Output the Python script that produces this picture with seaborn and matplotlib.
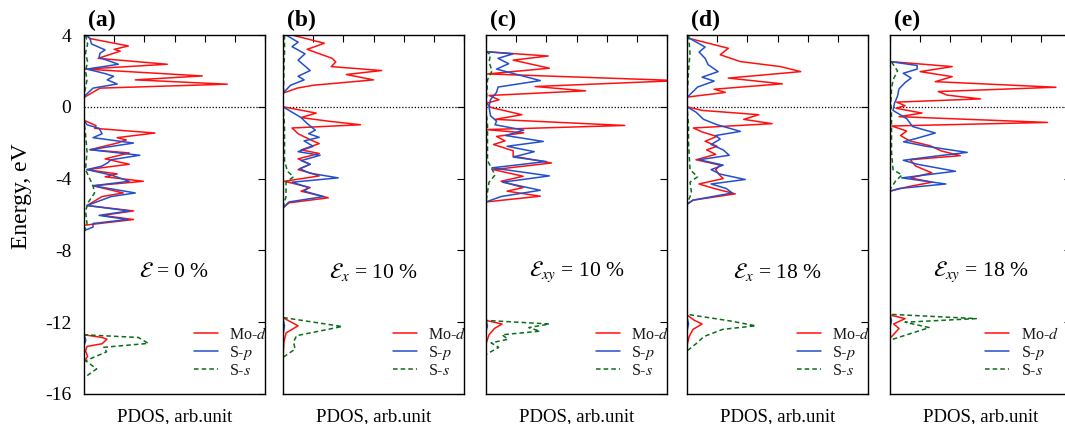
import matplotlib
matplotlib.use("Agg")
import matplotlib.pyplot as plt
import seaborn as sns
import numpy as np

# ---------------- data (energy in eV, PDOS in arb. units) ----------------
panel_labels = ["(a)", "(b)", "(c)", "(d)", "(e)"]
strain_labels = [r"$\mathcal{E}$ = 0 %", r"$\mathcal{E}_x$ = 10 %", r"$\mathcal{E}_{xy}$ = 10 %",
                 r"$\mathcal{E}_x$ = 18 %", r"$\mathcal{E}_{xy}$ = 18 %"]
series_names = ["Mo-$d$", "S-$p$", "S-$s$"]
yticks = [4, 0, -4, -8, -12, -16]

# (a) 0 %
a_mo_e = [4.0, 3.8, 3.39, 3.2, 3.1, 2.7, 2.37, 2.1, 1.72, 1.5, 1.26, 1.04, 0.57, 0.5,
          -0.75, -1.05, -1.2, -1.46, -1.72, -1.85, -2.02, -2.39, -2.57, -2.9, -3.2, -3.5, -3.74, -3.9,
          -4.15, -4.4, -4.8, -5.0, -5.5, -5.8, -6.05, -6.28, -6.6, -6.9,
          -12.7, -12.85, -12.95, -13.2, -13.35, -13.6, -13.9, -14.2]
a_mo_v = [0.1, 0.2, 1.47, 1.0, 1.2, 0.47, 2.76, 0.03, 3.92, 1.7, 4.75, 0.53, 0.05, 0.0,
          0.0, 0.4, 0.35, 2.35, 1.1, 1.4, 1.1, 0.2, 1.5, 0.7, 1.5, 0.1, 1.1, 0.7,
          1.97, 0.3, 1.3, 0.6, 0.1, 1.64, 0.6, 1.64, 0.0, 0.0,
          0.0, 0.6, 0.76, 0.6, 0.1, 0.05, 0.12, 0.0]
a_sp_e = [4.0, 3.8, 3.5, 3.17, 2.98, 2.75, 2.37, 2.1, 1.85, 1.7, 1.5, 1.27, 1.04, 0.57,
          -0.75, -1.0, -1.2, -1.5, -1.72, -2.02, -2.39, -2.7, -2.95, -3.1, -3.3, -3.5, -3.8,
          -4.15, -4.4, -4.8, -5.0, -5.5, -5.8, -6.05, -6.28, -6.5, -6.7, -6.9,
          -12.7, -13.0, -13.3]
a_sp_v = [0.05, 0.2, 0.25, 0.7, 0.53, 0.5, 1.14, 0.1, 0.7, 0.98, 0.77, 1.1, 0.3, 0.0,
          0.0, 0.1, 0.5, 0.6, 0.3, 1.64, 0.2, 1.85, 0.9, 0.8, 0.6, 0.1, 0.9,
          1.5, 0.3, 1.7, 0.9, 0.1, 1.5, 0.5, 1.45, 0.3, 0.3, 0.0,
          0.0, 0.06, 0.0]
a_ss_e = [4.0, 3.5, 3.0, 2.5, 2.0, 1.5, 0.9, 0.5,
          -0.8, -1.5, -2.5, -3.5, -4.4, -4.8, -5.3, -5.8, -6.5, -7.0,
          -12.7, -12.85, -13.18, -13.4, -13.65, -14.15, -14.6, -15.1]
a_ss_v = [0.05, 0.12, 0.05, 0.12, 0.05, 0.1, 0.03, 0.0,
          0.0, 0.05, 0.1, 0.05, 0.3, 0.35, 0.15, 0.05, 0.1, 0.0,
          0.0, 1.8, 2.13, 0.65, 0.75, 0.05, 0.42, 0.0]

# (b) eps_x 10 %
b_mo_e = [4.0, 3.54, 3.2, 2.7, 2.5, 2.24, 2.02, 1.8, 1.5, 1.2, 1.04, 0.76,
          0.0, -0.35, -0.6, -0.8, -1.0, -1.18, -1.5, -1.83, -2.05, -2.4, -2.6, -2.9, -3.2, -3.5,
          -3.7, -3.85, -4.15, -4.5, -4.7, -5.07, -5.35, -5.63,
          -11.75, -12.2, -12.6, -13.1, -13.9]
b_mo_v = [0.3, 1.37, 0.8, 1.63, 1.75, 1.6, 3.27, 2.1, 3.0, 1.0, 0.47, 0.0,
          0.0, 1.1, 0.6, 1.5, 2.57, 0.3, 0.5, 0.9, 1.2, 0.6, 1.2, 0.5, 0.9, 0.5,
          0.93, 1.2, 0.05, 0.9, 0.6, 1.5, 0.2, 0.0,
          0.0, 0.5, 0.1, 0.03, 0.0]
b_sp_e = [4.0, 3.6, 3.35, 2.95, 2.6, 2.02, 1.7, 1.5, 1.2, 0.76,
          0.0, -0.3, -0.6, -0.93, -1.3, -1.5, -1.7, -1.9, -2.2, -2.5, -2.7, -3.0, -3.2, -3.45,
          -3.7, -3.96, -4.2, -4.5, -4.7, -5.0, -5.3, -5.63,
          -11.8, -12.2, -12.7]
b_sp_v = [0.1, 0.5, 0.3, 0.73, 0.5, 0.9, 0.5, 0.7, 0.25, 0.0,
          0.0, 0.3, 0.6, 0.8, 1.07, 0.85, 1.2, 0.7, 1.0, 0.5, 1.23, 0.6, 0.9, 0.55,
          0.9, 1.83, 0.3, 0.85, 0.7, 1.35, 0.2, 0.0,
          0.0, 0.05, 0.0]
b_ss_e = [4.0, 3.0, 2.0, 1.0, 0.5,
          0.0, -1.0, -2.0, -3.0, -3.6, -3.9, -4.2, -5.0, -5.6,
          -11.74, -12.24, -12.75, -13.1, -13.5, -13.96]
b_ss_v = [0.05, 0.05, 0.03, 0.02, 0.0,
          0.0, 0.05, 0.05, 0.05, 0.15, 0.35, 0.1, 0.1, 0.0,
          0.0, 1.96, 0.45, 0.35, 0.4, 0.0]

# (c) eps_xy 10 %
c_mo_e = [3.07, 2.83, 2.6, 2.15, 1.83, 1.46, 1.13, 0.89, 0.63, 0.39, 0.2, -0.03,
          -0.44, -0.7, -1.04, -1.27, -1.45, -1.65, -1.9, -2.1, -2.45, -2.75, -3.13, -3.5,
          -3.87, -4.15, -4.5, -4.7, -4.98, -5.3,
          -11.9, -12.1, -12.35, -12.7, -13.2]
c_mo_v = [0.0, 2.06, 0.9, 2.1, 0.05, 6.4, 1.63, 3.3, 0.1, 0.43, 0.02, 0.15,
          1.19, 0.3, 4.6, 0.0, 1.25, 0.35, 0.63, 0.25, 0.9, 0.9, 2.17, 0.25,
          1.23, 0.5, 1.23, 0.7, 1.8, 0.0,
          0.0, 0.53, 0.28, 0.1, 0.0]
c_sp_e = [3.07, 2.95, 2.7, 2.4, 2.1, 1.46, 1.1, 0.8, 0.4, 0.0, -0.5, -0.8, -1.0,
          -1.3, -1.6, -1.93, -2.2, -2.5, -2.8, -3.05, -3.4, -3.85, -4.2, -4.65, -5.0, -5.3,
          -11.9, -12.2, -12.5]
c_sp_v = [0.0, 0.9, 0.4, 0.75, 0.35, 1.8, 0.4, 0.35, 0.15, 0.1, 0.15, 0.35, 0.3,
          1.25, 0.65, 1.9, 0.7, 1.6, 0.9, 2.0, 0.2, 2.1, 0.55, 1.8, 0.5, 0.0,
          0.0, 0.05, 0.0]
c_ss_e = [3.1, 2.9, 2.5, 2.0, 1.5, 0.5,
          -0.2, -1.0, -2.0, -3.0, -3.8, -4.2, -5.3,
          -11.9, -12.1, -12.3, -12.5, -12.7, -12.95, -13.15, -13.4, -13.8]
c_ss_v = [0.0, 0.15, 0.1, 0.2, 0.05, 0.02,
          0.0, 0.05, 0.05, 0.05, 0.3, 0.1, 0.0,
          0.0, 2.1, 1.42, 1.79, 0.53, 0.73, 0.17, 0.42, 0.0]

# (d) eps_x 18 %
d_mo_e = [3.95, 3.8, 3.26, 2.9, 2.52, 2.24, 1.96, 1.6, 1.28, 0.98, 0.8, 0.54,
          0.0, -0.2, -0.44, -0.7, -0.94, -1.18, -1.4, -1.65, -1.92, -2.2, -2.4, -2.65, -2.95,
          -3.25, -3.5, -3.75, -4.0, -4.3, -4.55, -4.85, -5.2, -5.4,
          -11.6, -11.9, -12.1, -12.4, -12.8, -13.3]
d_mo_v = [0.0, 0.1, 1.37, 1.1, 1.77, 3.1, 3.77, 1.37, 3.16, 0.9, 1.27, 0.0,
          0.0, 0.5, 2.38, 1.88, 2.82, 0.21, 0.5, 0.99, 0.6, 1.0, 0.65, 0.95, 0.3,
          1.1, 0.95, 1.05, 1.2, 0.4, 0.9, 1.6, 0.2, 0.0,
          0.0, 0.25, 0.5, 0.2, 0.07, 0.0]
d_sp_e = [3.95, 3.8, 3.33, 3.05, 2.7, 2.35, 1.96, 1.65, 1.43, 1.1, 0.6, 0.54,
          0.0, -0.3, -0.7, -1.0, -1.37, -1.6, -1.8, -2.1, -2.4, -2.7, -2.95, -3.25, -3.5,
          -3.75, -4.05, -4.3, -4.55, -4.8, -5.2, -5.45,
          -11.7, -12.1, -12.5]
d_sp_v = [0.0, 0.1, 0.6, 0.4, 0.6, 0.7, 1.03, 0.5, 0.9, 0.35, 0.05, 0.0,
          0.0, 0.3, 0.55, 1.0, 1.77, 0.95, 1.1, 0.8, 1.2, 1.4, 0.4, 1.2, 0.8,
          1.1, 1.93, 0.8, 1.3, 1.5, 0.2, 0.0,
          0.0, 0.05, 0.0]
d_ss_e = [4.0, 3.0, 2.0, 1.0, 0.5,
          0.0, -1.0, -2.0, -3.5, -3.9, -4.2, -4.8, -5.4,
          -11.56, -11.93, -12.2, -12.4, -12.8, -13.2, -13.6]
d_ss_v = [0.05, 0.1, 0.05, 0.02, 0.0,
          0.0, 0.05, 0.05, 0.1, 0.35, 0.1, 0.15, 0.0,
          0.0, 1.43, 2.28, 1.18, 0.56, 0.3, 0.0]

# (e) eps_xy 18 %
e_mo_e = [2.52, 2.24, 1.96, 1.68, 1.4, 1.09, 0.85, 0.65, 0.44, 0.26, 0.06, -0.08,
          -0.35, -0.55, -0.87, -1.07, -1.35, -1.6, -1.9, -2.17, -2.46, -2.72, -2.95, -3.3,
          -3.68, -3.96, -4.2, -4.45, -4.7,
          -11.6, -11.8, -12.1, -12.35, -12.9]
e_mo_v = [0.0, 2.06, 1.0, 2.06, 1.5, 5.5, 1.6, 1.9, 3.0, 0.22, 0.5, 0.2,
          1.06, 0.3, 5.22, 0.06, 0.55, 0.35, 0.65, 1.33, 1.7, 2.33, 0.67, 0.85,
          1.39, 0.67, 1.4, 0.6, 0.0,
          0.0, 0.5, 0.12, 0.3, 0.0]
e_sp_e = [2.52, 2.3, 2.1, 1.87, 1.6, 1.35, 1.0, 0.6, 0.2, -0.2, -0.67, -1.1,
          -1.46, -1.75, -1.95, -2.2, -2.54, -2.75, -2.98, -3.2, -3.59, -3.96, -4.3,
          -4.55, -4.7,
          -11.6, -11.9, -12.3]
e_sp_v = [0.0, 0.9, 0.9, 0.44, 0.7, 0.5, 0.3, 0.25, 0.15, 0.1, 0.56, 0.75,
          1.5, 0.9, 0.45, 1.2, 2.56, 1.5, 0.44, 0.9, 2.17, 0.39, 1.85,
          0.3, 0.0,
          0.0, 0.05, 0.0]
e_ss_e = [2.5, 2.0, 1.5, 1.0, 0.2,
          -0.5, -1.5, -2.5, -3.5, -3.8, -4.1, -4.6,
          -11.56, -11.8, -12.0, -12.3, -13.0]
e_ss_v = [0.05, 0.25, 0.1, 0.05, 0.03,
          0.05, 0.05, 0.05, 0.1, 0.4, 0.2, 0.0,
          0.0, 2.86, 0.5, 1.3, 0.0]

panels = [
    ((a_mo_e, a_mo_v), (a_sp_e, a_sp_v), (a_ss_e, a_ss_v)),
    ((b_mo_e, b_mo_v), (b_sp_e, b_sp_v), (b_ss_e, b_ss_v)),
    ((c_mo_e, c_mo_v), (c_sp_e, c_sp_v), (c_ss_e, c_ss_v)),
    ((d_mo_e, d_mo_v), (d_sp_e, d_sp_v), (d_ss_e, d_ss_v)),
    ((e_mo_e, e_mo_v), (e_sp_e, e_sp_v), (e_ss_e, e_ss_v)),
]

# ---------------- style ----------------
sns.set_theme(style="white")
plt.rcParams["font.family"] = ["Liberation Serif", "DejaVu Serif"]
plt.rcParams["mathtext.fontset"] = "stix"
for key in ["text.color", "axes.labelcolor", "xtick.color", "ytick.color"]:
    plt.rcParams[key] = "black"

colors = ["#ff1010", "#2250cc", "#0a6e1a"]
styles = ["-", "-", (0, (3, 2))]

W, H = 1065, 424
fig = plt.figure(figsize=(W / 100, H / 100), dpi=100)

lefts = [84, 283, 486, 687, 890]
legend_x = [0.570, 0.570, 0.570, 0.570, 0.49]
pw, top, bottom = 181, 35, 394

for i, (L, series) in enumerate(zip(lefts, panels)):
    ax = fig.add_axes([L / W, (H - bottom) / H, pw / W, (bottom - top) / H])
    ax.axhline(0, color="black", ls=(0, (1, 1.5)), lw=0.9, zorder=1)
    for (E, V), name, col, ls in zip(series, series_names, colors, styles):
        sns.lineplot(x=V, y=E, sort=False, estimator=None, ax=ax, color=col,
                     linestyle=ls, lw=1.1, label=name)
    ax.set_xlim(0, 6)
    ax.set_ylim(-16, 4)
    ax.set_xticks(range(0, 7))
    ax.set_yticks(yticks)
    ax.tick_params(direction="in", top=True, right=True, length=5, width=0.8,
                   labelsize=14, pad=9, colors="black")
    ax.set_xticklabels([])
    if i == 0:
        ax.set_yticklabels([str(t) for t in yticks])
        ax.set_ylabel("Energy, eV", fontsize=17, color="black")
        ax.yaxis.set_label_coords(-0.29, 0.55)
    else:
        ax.set_yticklabels([])
        ax.set_ylabel("")
    ax.set_xlabel("PDOS, arb.unit", fontsize=13.5, labelpad=1, color="black")
    for sp in ax.spines.values():
        sp.set_color("black")
        sp.set_linewidth(1.0)
        sp.set_zorder(5)
    ax.text(0.02, 1.012, panel_labels[i], transform=ax.transAxes, fontsize=17,
            fontweight="bold", ha="left", va="bottom", color="black")
    ax.text(0.5, 0.34, strain_labels[i], transform=ax.transAxes, fontsize=15.5,
            ha="center", va="center", color="black")
    leg = ax.legend(loc="lower left", bbox_to_anchor=(legend_x[i], 0.025), frameon=False,
                    fontsize=11.5, handlelength=1.5, handletextpad=0.75,
                    labelspacing=0.05, borderaxespad=0.0)
    for t in leg.get_texts():
        t.set_color("#1a1a1a")

fig.savefig("out.png", dpi=100)
